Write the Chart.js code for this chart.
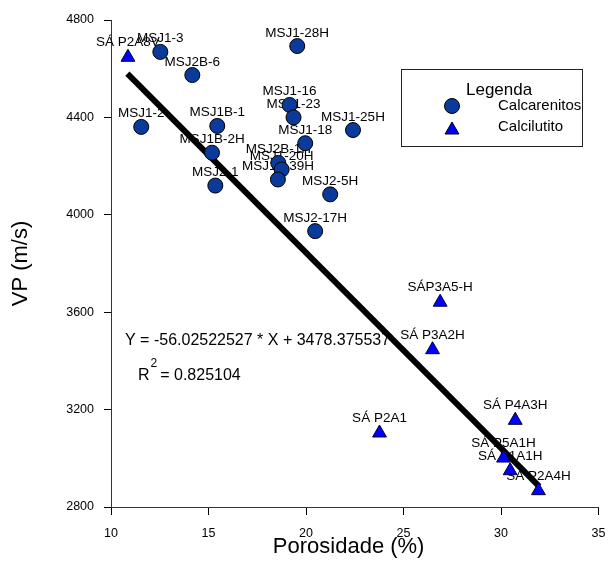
<!DOCTYPE html>
<html>
<head>
<meta charset="utf-8">
<script src="https://cdn.jsdelivr.net/npm/chart.js@4.4.0/dist/chart.umd.min.js"></script>
<style>
  body { margin: 0; background: #fff; }
  canvas { display: block; }
</style>
</head>
<body>
<canvas id="vpChart" width="608" height="561"></canvas>
<script>
// Calcarenitos (circulos)
const calcNomes = ['MSJ1-3', 'MSJ2B-6', 'MSJ1-28H', 'MSJ1-2', 'MSJ1B-1', 'MSJ1-16', 'MSJ1-23', 'MSJ1-18',
                   'MSJ1-25H', 'MSJ1B-2H', 'MSJ2-1', 'MSJ2B-1H', 'MSJ1-20H', 'MSJ1F-39H', 'MSJ2-5H', 'MSJ2-17H'];
const calcPorosidade = [12.53, 14.17, 19.55, 11.55, 15.45, 19.16, 19.36, 19.96,
                        22.41, 15.18, 15.35, 18.58, 18.75, 18.56, 21.24, 20.47];
const calcVp = [4669, 4574, 4693, 4361, 4365, 4451, 4400, 4294,
                4348, 4255, 4120, 4213, 4186, 4145, 4084, 3933];

// Calcilutito (triangulos)
const lutNomes = ['SÁ P2A8V', 'SÁP3A5-H', 'SÁ P3A2H', 'SÁ P2A1', 'SÁ P4A3H', 'SÁ P5A1H', 'SÁ P1A1H', 'SÁ P2A4H'];
const lutPorosidade = [10.87, 26.88, 26.49, 23.77, 30.73, 30.13, 30.47, 31.92];
const lutVp = [4647, 3641, 3446, 3104, 3156, 3001, 2949, 2867];

// reta de ajuste (extremos)
const retaPorosidade = [10.84, 31.96];
const retaVp = [4580, 2885];

const xTicks = [10, 15, 20, 25, 30, 35];
const yTicks = [2800, 3200, 3600, 4000, 4400, 4800];

const equacao = 'Y = -56.02522527 * X + 3478.375537';
const r2Valor = '= 0.825104';

const FONTE = '"Liberation Sans", Arial, sans-serif';

function pares(xs, ys) {
    return xs.map((x, i) => ({ x: x, y: ys[i] }));
}

// rotulos dos pontos (desenhados antes, a reta passa por cima)
const rotulosPlugin = {
    id: 'rotulos',
    beforeDatasetsDraw(chart) {
        const ctx = chart.ctx;
        ctx.save();
        ctx.font = '13.5px ' + FONTE;
        ctx.fillStyle = '#000';
        ctx.textAlign = 'center';
        ctx.textBaseline = 'alphabetic';
        chart.getDatasetMeta(0).data.forEach((pt, j) => {
            ctx.fillText(calcNomes[j], pt.x, pt.y - 9.5);
        });
        chart.getDatasetMeta(1).data.forEach((pt, j) => {
            ctx.fillText(lutNomes[j], pt.x, pt.y - 11);
        });
        ctx.restore();
    }
};

// legenda e equacao
const legendaPlugin = {
    id: 'legenda',
    afterDraw(chart) {
        const ctx = chart.ctx;
        ctx.save();
        ctx.strokeStyle = '#222';
        ctx.lineWidth = 1;
        ctx.strokeRect(401.5, 69.5, 181, 77);

        ctx.fillStyle = '#000';
        ctx.textAlign = 'left';
        ctx.textBaseline = 'alphabetic';
        ctx.font = '17px ' + FONTE;
        ctx.fillText('Legenda', 466, 95);

        ctx.fillStyle = '#0a3a9a';
        ctx.strokeStyle = '#000';
        Chart.helpers.drawPoint(ctx, { pointStyle: 'circle', radius: 7.5, borderWidth: 1, rotation: 0 }, 452, 106);
        ctx.fillStyle = '#0000ff';
        Chart.helpers.drawPoint(ctx, { pointStyle: 'triangle', radius: 8, borderWidth: 1, rotation: 0 }, 452, 130);

        ctx.fillStyle = '#000';
        ctx.font = '15px ' + FONTE;
        ctx.textBaseline = 'middle';
        ctx.fillText('Calcarenitos', 498, 106);
        ctx.fillText('Calcilutito', 498, 127);

        // equacao da reta
        ctx.textBaseline = 'alphabetic';
        ctx.font = '16px ' + FONTE;
        ctx.fillText(equacao, 125, 345);
        ctx.fillText('R', 138, 380);
        const wR = ctx.measureText('R').width;
        ctx.font = '12px ' + FONTE;
        ctx.fillText('2', 138 + wR + 1, 367);
        const w2 = ctx.measureText('2').width;
        ctx.font = '16px ' + FONTE;
        ctx.fillText(r2Valor, 138 + wR + 1 + w2 + 3, 380);
        ctx.restore();
    }
};

const ctx = document.getElementById('vpChart').getContext('2d');
new Chart(ctx, {
    type: 'scatter',
    data: {
        datasets: [
            {
                label: 'Calcarenitos',
                data: pares(calcPorosidade, calcVp),
                pointStyle: 'circle',
                pointRadius: 7.5,
                pointBackgroundColor: '#0a3a9a',
                pointBorderColor: '#000',
                pointBorderWidth: 1,
                order: 1
            },
            {
                label: 'Calcilutito',
                data: pares(lutPorosidade, lutVp),
                pointStyle: 'triangle',
                pointRadius: 8,
                pointBackgroundColor: '#0000ff',
                pointBorderColor: '#000033',
                pointBorderWidth: 1,
                order: 1
            },
            {
                type: 'line',
                label: 'Ajuste',
                data: pares(retaPorosidade, retaVp),
                borderColor: '#000',
                borderWidth: 6,
                pointRadius: 0,
                fill: false,
                order: 3
            }
        ]
    },
    options: {
        responsive: false,
        animation: false,
        layout: { padding: { top: 20, right: 9.5, left: 0, bottom: 0 } },
        plugins: {
            legend: { display: false },
            tooltip: { enabled: false }
        },
        scales: {
            x: {
                type: 'linear',
                position: 'bottom',
                min: 10,
                max: 35,
                afterBuildTicks: s => { s.ticks = xTicks.map(v => ({ value: v })); },
                afterFit: s => { s.height = 54; s.paddingLeft = 0; s.paddingRight = 0; },
                grid: { display: true, drawOnChartArea: false, drawTicks: true, tickLength: 8, color: '#000' },
                border: { display: true, color: '#333', width: 1 },
                ticks: { color: '#000', padding: 11, maxRotation: 0, font: { family: FONTE, size: 12.5 },
                         callback: v => String(v) },
                title: {
                    display: true,
                    text: 'Porosidade (%)  ',
                    color: '#000',
                    font: { family: FONTE, size: 22 },
                    padding: { top: 0, bottom: 1 }
                }
            },
            y: {
                type: 'linear',
                min: 2800,
                max: 4800,
                afterBuildTicks: s => { s.ticks = yTicks.map(v => ({ value: v })); },
                afterFit: s => { s.width = 111; },
                grid: { display: true, drawOnChartArea: false, drawTicks: true, tickLength: 7, color: '#000' },
                border: { display: true, color: '#333', width: 1 },
                ticks: { color: '#000', padding: 10, font: { family: FONTE, size: 12.5 },
                         callback: v => String(v) },
                title: {
                    display: true,
                    text: 'VP (m/s)',
                    color: '#000',
                    font: { family: FONTE, size: 22 },
                    padding: { top: 8, bottom: 0 }
                }
            }
        }
    },
    plugins: [rotulosPlugin, legendaPlugin]
});
</script>
</body>
</html>
